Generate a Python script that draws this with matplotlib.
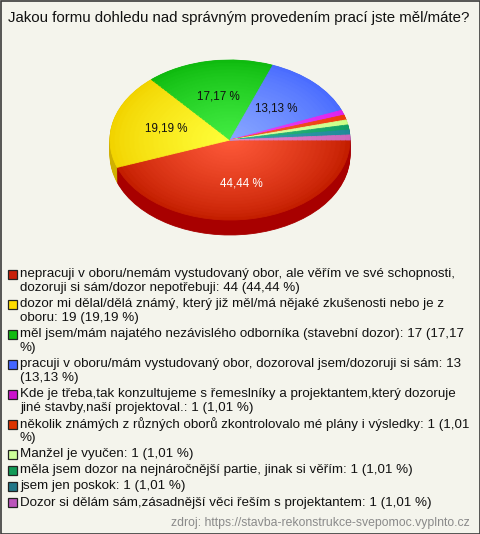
import numpy as np
import matplotlib.pyplot as plt
from matplotlib.colors import to_rgb
from matplotlib.patches import Rectangle

plt.rcParams['font.family'] = ['Liberation Sans', 'DejaVu Sans']

title = "Jakou formu dohledu nad správným provedením prací jste měl/máte?"
labels = [
    "nepracuji v oboru/nemám vystudovaný obor, ale věřím ve své schopnosti, dozoruji si sám/dozor nepotřebuji",
    "dozor mi dělal/dělá známý, který již měl/má nějaké zkušenosti nebo je z oboru",
    "měl jsem/mám najatého nezávislého odborníka (stavební dozor)",
    "pracuji v oboru/mám vystudovaný obor, dozoroval jsem/dozoruji si sám",
    "Kde je třeba,tak konzultujeme s řemeslníky a projektantem,který dozoruje jiné stavby,naší projektoval.",
    "několik známých z různých oborů zkontrolovalo mé plány i výsledky",
    "Manžel je vyučen",
    "měla jsem dozor na nejnáročnější partie, jinak si věřím",
    "jsem jen poskok",
    "Dozor si dělám sám,zásadnější věci řeším s projektantem",
]
counts = [44, 19, 17, 13, 1, 1, 1, 1, 1, 1]
rim_colors = ['#c41e00', '#f2d400', '#0fbb0f', '#4a6cff', '#dd22ee',
              '#ee3a0a', '#ccff88', '#11a066', '#1f8a99', '#cc66bb']
center_colors = ['#ff5a3a', '#ffff3a', '#44ee44', '#8aa8ff', '#e844f4',
                 '#f46030', '#ddffaa', '#30b880', '#3aa0b0', '#dd88cc']
side_colors = ['#a80000', '#d0b000', '#0a900a', '#3050cc', '#aa11bb',
               '#bb2200', '#99cc66', '#0b7a4c', '#17697a', '#a04a94']
legend_colors = ['#c8200a', '#ffdd00', '#11bb11', '#4466ff', '#cc11cc',
                 '#dd3300', '#ccff99', '#119955', '#227788', '#bb55bb']
source = "zdroj: https://stavba-rekonstrukce-svepomoc.vyplnto.cz"

W, H = 480, 534
bg = '#f4f4ec'
fig = plt.figure(figsize=(W / 100, H / 100), dpi=100, facecolor=bg)
fig.patches.append(Rectangle((0.5 / W, 0.5 / H), 1 - 1 / W, 1 - 1 / H, transform=fig.transFigure,
                             fill=False, edgecolor='#3a3a3a', linewidth=1.2))

fig.text(8 / W, 1 - 18 / H, title, fontsize=10.8, va='center', ha='left', color='#111111')

# pie axes: radius 1 -> 120 px wide, 80 px high (tilted look)
rx, ry = 120, 80
cx, cy = 230, 140
xl, yt, yb = 1.2, 1.1, 1.3
ax = fig.add_axes([(cx - xl * rx) / W, (H - cy - yb * ry) / H, 2 * xl * rx / W, (yt + yb) * ry / H])
ax.set_facecolor('none')

def blend(c1, c2, t):
    a, b = np.array(to_rgb(c1)), np.array(to_rgb(c2))
    return tuple(a + (b - a) * t)

def seal(wedges):
    for w in wedges:
        w.set_edgecolor(w.get_facecolor())
        w.set_linewidth(0.6)

# side wall: stacked copies shifted down
depth = 15 / ry
for d in np.linspace(depth, 0.005, 16):
    w, _ = ax.pie(counts, colors=side_colors, startangle=0, counterclock=False,
                  center=(0, -d), radius=1, wedgeprops=dict(linewidth=0))
    seal(w)

def fmt(p):
    return (f"{p:.2f}".replace('.', ',') + " %") if p > 5 else ''

w, _, pcts = ax.pie(counts, colors=rim_colors, startangle=0, counterclock=False,
                    radius=1, autopct=fmt, pctdistance=0.55,
                    textprops=dict(fontsize=8.4), wedgeprops=dict(linewidth=0))
seal(w)
for t, c in zip(pcts, counts):
    t.set_color('white' if c == max(counts) else '#111111')

# radial shading on the top face
for r in np.linspace(0.96, 0.08, 23):
    t = (1 - r) ** 0.8
    cols = [blend(a, b, t) for a, b in zip(rim_colors, center_colors)]
    w, _ = ax.pie(counts, colors=cols, startangle=0, counterclock=False,
                  radius=r, wedgeprops=dict(linewidth=0))
    seal(w)

ax.set_aspect('auto')
ax.set_xlim(-xl, xl)
ax.set_ylim(-yb, yt)
ax.axis('off')

# legend with wrapped entries
fs = 9.6
x_box, x_txt, max_px = 8, 20, 454
line_h, gap = 13.8, 2.4
renderer = fig.canvas.get_renderer()
total = sum(counts)

def text_width(s):
    t = fig.text(0, 0, s, fontsize=fs)
    wpx = t.get_window_extent(renderer).width
    t.remove()
    return wpx

y = 274
for lab, c, col in zip(labels, counts, legend_colors):
    full = f"{lab}: {c} (" + f"{100 * c / total:.2f}".replace('.', ',') + " %)"
    lines, cur = [], ''
    for wd in full.split(' '):
        trial = wd if not cur else cur + ' ' + wd
        if text_width(trial) > max_px and cur:
            lines.append(cur)
            cur = wd
        else:
            cur = trial
    lines.append(cur)
    fig.patches.append(Rectangle((x_box / W, 1 - (y + 4.5) / H), 9 / W, 9 / H,
                                 transform=fig.transFigure, facecolor=col,
                                 edgecolor='#222222', linewidth=0.9))
    for ln in lines:
        fig.text(x_txt / W, 1 - y / H, ln, fontsize=fs, va='center', ha='left', color='#111111')
        y += line_h
    y += gap

fig.text(470 / W, 1 - 523 / H, source, fontsize=8.8, va='center', ha='right', color='#8a8a8a')

fig.savefig('out.png', dpi=100, facecolor=bg)
